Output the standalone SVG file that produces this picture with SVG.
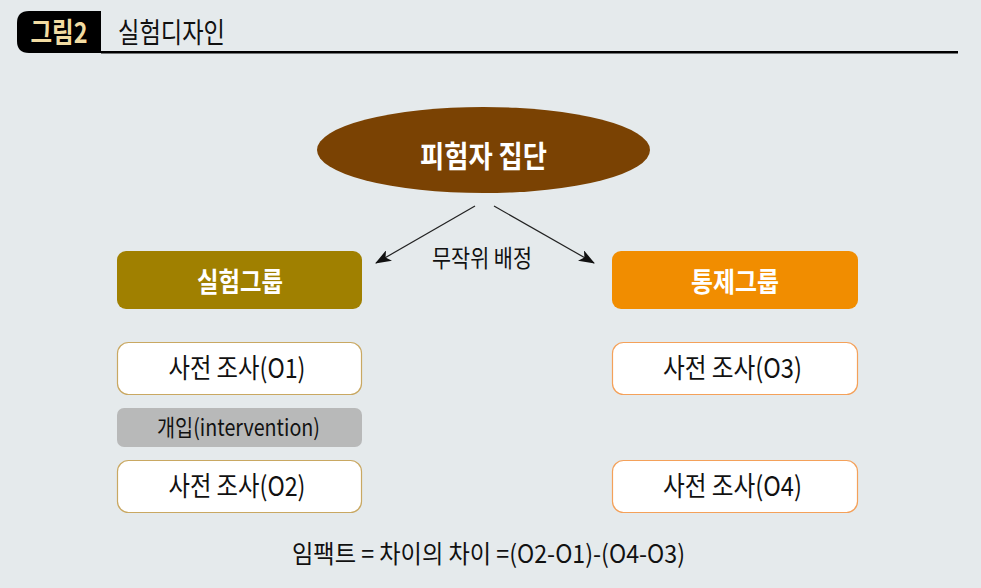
<svg xmlns="http://www.w3.org/2000/svg" width="981" height="588" viewBox="0 0 981 588">
<style>
.t{font-family:"Noto Sans CJK KR","Noto Sans",sans-serif;text-anchor:middle}
.w{fill:#ffffff;font-weight:bold}
.k{fill:#111111}
.obox{fill:#ffffff;stroke-width:1.2}
.lb{stroke:#c9a862}
.rb{stroke:#f4a15a}
.conn{stroke:#222222;stroke-width:1.2;fill:none}
</style>
<defs>
<marker id="ah" viewBox="0 0 16 12" refX="15" refY="6" markerWidth="16" markerHeight="12" markerUnits="userSpaceOnUse" orient="auto">
<path d="M0,0 L16,6 L0,12 L4,6 z" fill="#111111"/>
</marker>
</defs>
<rect width="981" height="588" fill="#e5eaec"/>
<g id="header">
<path d="M101,11 L29,11 Q17,11 17,23 L17,41 Q17,53 29,53 L101,53 z" fill="#000000"/>
<text x="59" y="43" class="t" style="font-weight:bold;fill:#f2dca2" font-size="28" textLength="57" lengthAdjust="spacingAndGlyphs">그림2</text>
<text x="118" y="42.5" font-family="'Noto Sans CJK KR',sans-serif" font-size="28" fill="#111111" textLength="107" lengthAdjust="spacingAndGlyphs">실험디자인</text>
<rect x="101" y="51" width="857" height="2.5" fill="#000000"/>
</g>
<g id="connectors">
<line x1="475" y1="206" x2="376" y2="263" class="conn" marker-end="url(#ah)"/>
<line x1="494" y1="206" x2="594" y2="263" class="conn" marker-end="url(#ah)"/>
<text x="482" y="267" class="t k" font-size="24" textLength="100" lengthAdjust="spacingAndGlyphs">무작위 배정</text>
</g>
<g id="subjects">
<ellipse cx="483.5" cy="150" rx="166.5" ry="43" fill="#7a4203"/>
<text x="483.5" y="167" class="t w" font-size="30" textLength="127" lengthAdjust="spacingAndGlyphs">피험자 집단</text>
</g>
<g id="exp-group">
<rect x="117" y="251" width="245" height="58" rx="9" fill="#a08000"/>
<text x="240" y="292" class="t w" font-size="27" textLength="86" lengthAdjust="spacingAndGlyphs">실험그룹</text>
</g>
<g id="ctrl-group">
<rect x="612" y="251" width="246" height="58" rx="9" fill="#f18d00"/>
<text x="735" y="292" class="t w" font-size="27" textLength="88" lengthAdjust="spacingAndGlyphs">통제그룹</text>
</g>
<g id="o1">
<rect x="117.5" y="342.5" width="244" height="52" rx="11" class="obox lb"/>
<text x="237" y="378" class="t k" font-size="27" textLength="137" lengthAdjust="spacingAndGlyphs">사전 조사(O1)</text>
</g>
<g id="intervention">
<rect x="117" y="408" width="245" height="39" rx="7" fill="#b8b9b9"/>
<text x="238.5" y="436" class="t k" font-size="23" textLength="163" lengthAdjust="spacingAndGlyphs">개입(intervention)</text>
</g>
<g id="o2">
<rect x="117.5" y="460.5" width="244" height="52" rx="11" class="obox lb"/>
<text x="237" y="496" class="t k" font-size="27" textLength="137" lengthAdjust="spacingAndGlyphs">사전 조사(O2)</text>
</g>
<g id="o3">
<rect x="612.5" y="342.5" width="245" height="52" rx="11" class="obox rb"/>
<text x="732.5" y="378" class="t k" font-size="27" textLength="139" lengthAdjust="spacingAndGlyphs">사전 조사(O3)</text>
</g>
<g id="o4">
<rect x="612.5" y="460.5" width="245" height="52" rx="11" class="obox rb"/>
<text x="732.5" y="496" class="t k" font-size="27" textLength="139" lengthAdjust="spacingAndGlyphs">사전 조사(O4)</text>
</g>
<g id="formula">
<text x="488.5" y="563" class="t k" font-size="25" textLength="393" lengthAdjust="spacingAndGlyphs">임팩트 = 차이의 차이 =(O2-O1)-(O4-O3)</text>
</g>
</svg>
